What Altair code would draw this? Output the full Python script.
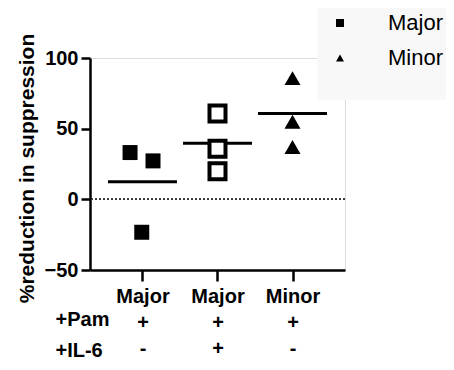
import altair as alt
import pandas as pd

# ---- data ----
group_labels = ["Major", "Major", "Minor"]
pam_row = ["+", "+", "+"]
il6_row = ["-", "+", "-"]

group_index = [1, 1, 1, 2, 2, 2, 3, 3, 3]
jitter = [-0.166, 0.14, -0.01, 0.0, 0.0, 0.0, 0.0, 0.0, 0.0]
values = [33.1, 27.2, -23.3, 60.8, 35.8, 19.9, 85.8, 54.9, 37.0]
subset = ["Major", "Major", "Major", "Major", "Major", "Major", "Minor", "Minor", "Minor"]
filled = [True, True, True, False, False, False, True, True, True]

mean_groups = [1, 2, 3]
mean_values = [12.5, 39.6, 60.8]

pts = pd.DataFrame({
    "group": group_index,
    "xpos": [g + j for g, j in zip(group_index, jitter)],
    "value": values,
    "subset": subset,
    "filled": filled,
})
means = pd.DataFrame({"group": mean_groups, "mean": mean_values})

FONT = "Liberation Sans"

def lab(i):
    return "['%s','%s','%s']" % (group_labels[i], pam_row[i], il6_row[i])

label_expr = "datum.value == 1 ? %s : datum.value == 2 ? %s : %s" % (lab(0), lab(1), lab(2))

x_scale = alt.Scale(domain=[0.3, 3.7], nice=False, zero=False)
y_scale = alt.Scale(domain=[-50, 100], nice=False, zero=False)

x_axis = alt.Axis(
    values=[1, 2, 3], labelExpr=label_expr, grid=False,
    domainColor="black", domainWidth=2.5, tickColor="black", tickWidth=2.5, tickSize=11,
    labelFont=FONT, labelFontSize=20, labelFontWeight="bold", labelColor="black",
    labelBaseline="top", labelLineHeight=26, labelPadding=5, labelOverlap=False,
    title=["+Pam", "+IL-6"], titleFont=FONT, titleFontSize=20, titleFontWeight="bold",
    titleColor="black", titleAlign="left", titleBaseline="top", titleLineHeight=31,
    titleX=-35, titleY=39, titleAngle=0,
)
y_axis = alt.Axis(
    values=[-50, 0, 50, 100], grid=False,
    domainColor="black", domainWidth=2.5, tickColor="black", tickWidth=2.5, tickSize=9,
    labelFont=FONT, labelFontSize=20, labelFontWeight="bold", labelColor="black",
    labelPadding=3,
    title="%reduction in suppression", titleFont=FONT, titleFontSize=21,
    titleFontWeight="bold", titleColor="black", titleAngle=270,
    titleAlign="center", titleBaseline="alphabetic", titleX=-57, titleY=110,
)

base = alt.Chart(pts)

shape_scale = alt.Scale(domain=["Major", "Minor"], range=["square", "triangle-up"])
legend = alt.Legend(
    title=" ", titleOrient="bottom", titleFontSize=19, titlePadding=0,
    orient="none", legendX=227, legendY=-58, padding=12,
    fillColor="#f8f8f8", labelFont=FONT, labelFontSize=22, labelColor="black",
    labelOffset=37, symbolSize=64, symbolFillColor="black", symbolStrokeColor="black",
    symbolStrokeWidth=0, rowPadding=13,
)

zero_line = alt.Chart(means).mark_rule(
    color="#333333", strokeWidth=1.5, strokeDash=[2, 2]
).encode(
    y=alt.Y("z:Q", scale=y_scale, axis=y_axis),
).transform_calculate(z="0")

filled_sq = base.transform_filter("datum.filled && datum.subset == 'Major'").mark_point(
    filled=True, color="black", size=225, opacity=1
).encode(
    x=alt.X("xpos:Q", scale=x_scale, axis=x_axis),
    y=alt.Y("value:Q", scale=y_scale, axis=y_axis),
    shape=alt.Shape("subset:N", scale=shape_scale, legend=legend),
)

tri = base.transform_filter("datum.subset == 'Minor'").mark_point(
    filled=True, color="black", size=256, opacity=1
).encode(
    x=alt.X("xpos:Q", scale=x_scale, axis=x_axis),
    y=alt.Y("value:Q", scale=y_scale, axis=y_axis),
    shape=alt.Shape("subset:N", scale=shape_scale, legend=legend),
)

open_sq = base.transform_filter("!datum.filled").mark_point(
    shape="square", filled=False, fill="white", stroke="black", strokeWidth=4,
    size=256, opacity=1, fillOpacity=1
).encode(
    x=alt.X("xpos:Q", scale=x_scale, axis=x_axis),
    y=alt.Y("value:Q", scale=y_scale, axis=y_axis),
)

mean_ticks = alt.Chart(means).mark_tick(
    orient="horizontal", size=69, thickness=3, color="black", opacity=1
).encode(
    x=alt.X("group:Q", scale=x_scale, axis=x_axis),
    y=alt.Y("mean:Q", scale=y_scale, axis=y_axis),
)

chart = alt.layer(zero_line, mean_ticks, filled_sq, open_sq, tri).properties(
    width=255, height=212,
    autosize=alt.AutoSizeParams(type="none"),
    padding={"left": 82, "top": 50, "right": 101, "bottom": 92},
).configure_view(stroke=None).configure(background="white")

chart.save("out.html", embed_options={"renderer": "svg", "actions": False})
